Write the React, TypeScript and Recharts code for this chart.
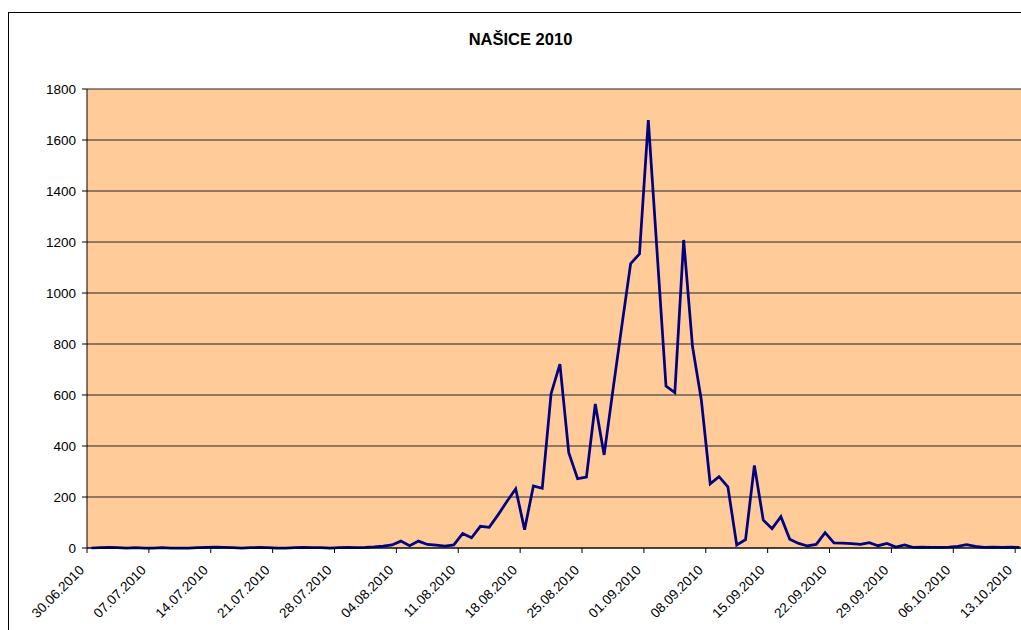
import { LineChart, Line, XAxis, YAxis, CartesianGrid } from 'recharts';

// daily values from 30.06.2010 (index 0) to 13.10.2010 (index 105)
const dailyValues = [
  0, 1, 2, 1, 0, 1, 0, 0, 1, 0, 0, 0, 1, 2, 3, 2, 1, 0, 1, 2, 1, 0, 0, 1, 2, 1, 1, 0, 1, 2, 1,
  2, 4, 7, 12, 27, 9, 27, 14, 11, 7, 12, 57, 40, 85, 81, 130, 182, 232, 72,
  243, 234, 605, 721, 374, 272, 278, 565, 365, 620, 870, 1115, 1153, 1678, 1157, 635,
  609, 1208, 790, 580, 252, 280, 240, 12, 33, 324, 110, 76, 123, 34, 18, 8, 14, 60,
  20, 19, 17, 14, 21, 9, 18, 4, 12, 2, 3, 2, 2, 3, 6, 13, 6, 2, 3, 2, 3, 2,
];

const tickLabels = [
  '30.06.2010', '07.07.2010', '14.07.2010', '21.07.2010', '28.07.2010', '04.08.2010',
  '11.08.2010', '18.08.2010', '25.08.2010', '01.09.2010', '08.09.2010', '15.09.2010',
  '22.09.2010', '29.09.2010', '06.10.2010', '13.10.2010',
];
const tickDays = [0, 7, 14, 21, 28, 35, 42, 49, 56, 63, 70, 77, 84, 91, 98, 105];
const yTicks = [0, 200, 400, 600, 800, 1000, 1200, 1400, 1600, 1800];

const FONT = 'Arial, "Liberation Sans", sans-serif';

// each day sits in the middle of its category slot
const data = dailyValues.map((v, i) => ({ day: i + 0.5, value: v }));

function DateTick({ x, y, payload }: any) {
  const idx = tickDays.indexOf(payload.value);
  return (
    <g transform={`translate(${x - 2},${y})`}>
      <text
        textAnchor="end"
        transform="rotate(-45)"
        fontSize={13.5}
        fontFamily={FONT}
        fill="#000"
      >
        {tickLabels[idx]}
      </text>
    </g>
  );
}

export default function App() {
  return (
    <div
      style={{
        position: 'absolute',
        left: 0,
        top: 0,
        width: 1021,
        height: 630,
        overflow: 'hidden',
        background: '#fff',
      }}
    >
      <div
        style={{
          position: 'absolute',
          left: 8,
          top: 12,
          width: 1100,
          height: 700,
          border: '1px solid #000',
        }}
      />
      <div
        style={{
          position: 'absolute',
          left: 0,
          top: 30,
          width: 1021,
          textAlign: 'center',
          fontFamily: FONT,
          fontWeight: 'bold',
          fontSize: 16.5,
          color: '#000',
          paddingLeft: 10,
        }}
      >
        NAŠICE 2010
      </div>
      <div style={{ position: 'absolute', left: 0, top: 0 }}>
        <LineChart
          width={1040}
          height={630}
          data={data}
          margin={{ top: 89, right: 16, bottom: 12, left: 27 }}
        >
          <CartesianGrid
            vertical={false}
            stroke="#222"
            fill="#FFCC99"
            fillOpacity={1}
          />
          <XAxis
            dataKey="day"
            type="number"
            domain={[0, 106]}
            ticks={tickDays}
            interval={0}
            tick={<DateTick />}
            tickSize={5}
            tickMargin={18}
            height={70}
            axisLine={{ stroke: '#000' }}
            tickLine={{ stroke: '#000' }}
          />
          <YAxis
            domain={[0, 1800]}
            ticks={yTicks}
            interval={0}
            width={60}
            tickSize={5}
            tickMargin={6}
            axisLine={{ stroke: '#000' }}
            tickLine={{ stroke: '#000' }}
            tick={{ fill: '#000', fontSize: 13.5, fontFamily: FONT }}
          />
          <Line
            type="linear"
            dataKey="value"
            stroke="#000080"
            strokeWidth={2.75}
            dot={false}
            isAnimationActive={false}
          />
        </LineChart>
      </div>
    </div>
  );
}
